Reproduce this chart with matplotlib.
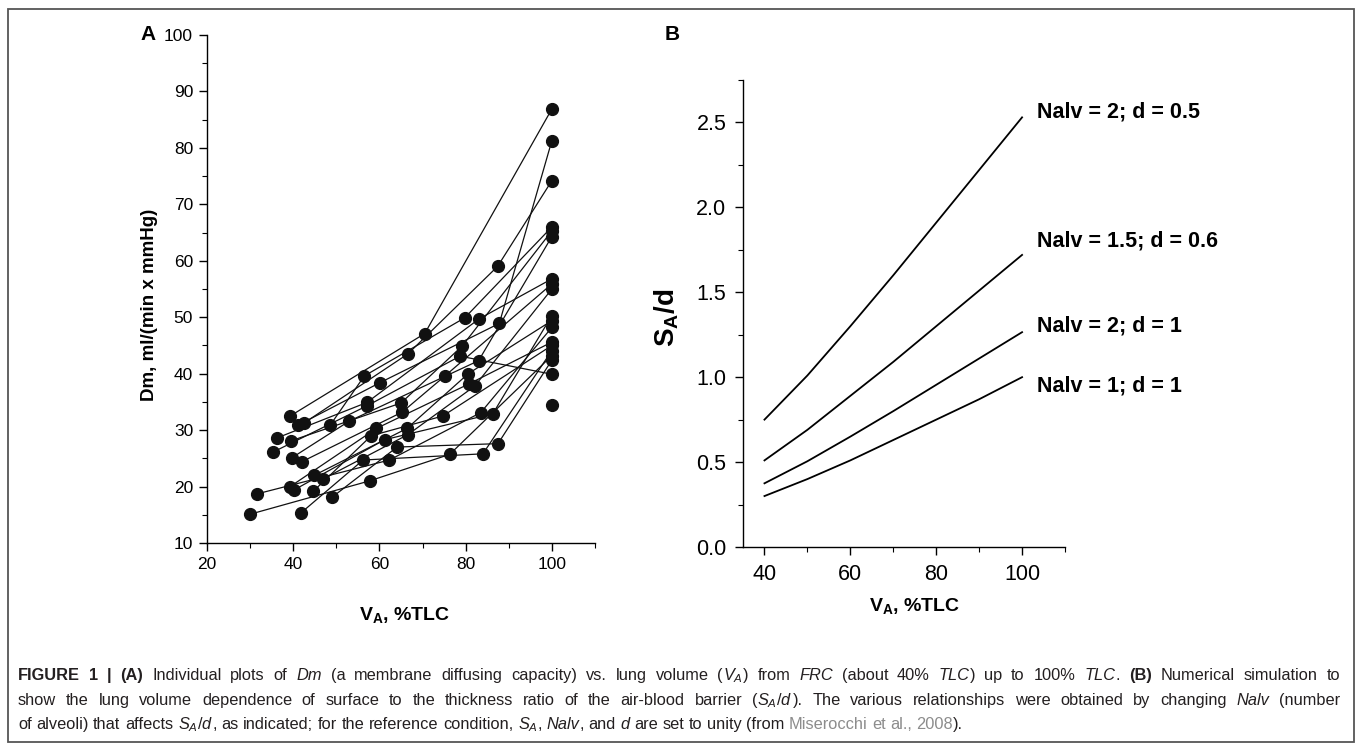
import numpy as np
import matplotlib.pyplot as plt
from matplotlib.ticker import MultipleLocator
from matplotlib.patches import Rectangle

plt.rcParams['font.family'] = ['Liberation Sans', 'DejaVu Sans']
plt.rcParams['mathtext.fontset'] = 'custom'
plt.rcParams['mathtext.rm'] = 'Liberation Sans'
plt.rcParams['mathtext.it'] = 'Liberation Sans:italic'
plt.rcParams['mathtext.bf'] = 'Liberation Sans:bold'

# ---- panel A: Dm vs lung volume, one list per subject ----
subj_va = [
    [30.0, 57.7, 76.3, 100], [41.9, 56.2, 84.0, 100], [49.0, 64.1, 87.5, 100],
    [31.6, 62.3, 83.5, 100], [44.7, 58.1, 74.7, 100], [40.2, 61.2, 86.3, 100],
    [39.3, 59.3, 80.8, 100], [46.8, 66.6, 82.1, 100], [44.9, 66.4, 80.6, 100],
    [42.0, 65.3, 75.2, 100], [39.7, 53.0, 83.0, 100], [35.3, 57.1, 78.7, 100],
    [39.5, 65.0, 79.2, 100], [36.2, 57.1, 83.1, 100], [41.2, 60.1, 87.8, 100],
    [48.6, 56.5, 79.8, 100], [42.4, 66.6, 87.4, 100], [39.3, 70.5, 100],
    [100],
]
subj_dm = [
    [15.1, 21.0, 25.7, 43.2], [15.4, 24.7, 25.8, 44.1], [18.1, 27.0, 27.6, 42.4],
    [18.7, 24.7, 33.1, 48.2], [19.2, 29.0, 32.5, 45.0], [19.4, 28.3, 32.9, 50.3],
    [20.0, 30.3, 38.2, 45.6], [21.3, 29.2, 37.8, 55.0], [22.0, 30.3, 40.0, 49.4],
    [24.4, 33.2, 39.6, 55.9], [25.1, 31.6, 42.3, 64.3], [26.1, 34.3, 43.1, 39.9],
    [28.1, 34.8, 44.9, 65.3], [28.6, 34.9, 49.7, 56.8], [30.9, 38.4, 48.9, 81.3],
    [30.9, 39.6, 49.9, 66.0], [31.2, 43.5, 59.0, 74.2], [32.5, 47.1, 86.9],
    [34.4],
]

# ---- panel B: simulated SA/d vs lung volume ----
va_sim = [40, 50, 60, 70, 80, 90, 100]
sad_n2_d05 = [0.75, 1.01, 1.30, 1.60, 1.91, 2.22, 2.53]
sad_n15_d06 = [0.51, 0.69, 0.89, 1.09, 1.30, 1.51, 1.72]
sad_n2_d1 = [0.375, 0.505, 0.65, 0.80, 0.955, 1.11, 1.265]
sad_n1_d1 = [0.30, 0.40, 0.51, 0.63, 0.75, 0.87, 1.00]
sim_labels = ['Nalv = 2; d = 0.5', 'Nalv = 1.5; d = 0.6', 'Nalv = 2; d = 1', 'Nalv = 1; d = 1']
label_y = [2.56, 1.80, 1.30, 0.95]

W, H = 1357, 746
fig = plt.figure(figsize=(W / 100, H / 100), dpi=100)

def px_axes(l, t, r, b):
    return fig.add_axes([l / W, 1 - b / H, (r - l) / W, (b - t) / H])

def style_axes(ax, fs, pad):
    ax.spines['top'].set_visible(False)
    ax.spines['right'].set_visible(False)
    for s in ('left', 'bottom'):
        ax.spines[s].set_linewidth(1.0)
    ax.tick_params(which='major', direction='out', length=6, width=1.0,
                   labelsize=fs, pad=pad)
    ax.tick_params(which='minor', direction='out', length=3.5, width=0.8)

# panel A
axA = px_axes(207, 35, 595, 543)
for xs, ys in zip(subj_va, subj_dm):
    axA.plot(xs, ys, '-o', color='#111111', lw=0.9, ms=8.5, clip_on=False)
axA.set_xlim(20, 110)
axA.set_ylim(10, 100)
axA.xaxis.set_major_locator(MultipleLocator(20))
axA.xaxis.set_minor_locator(MultipleLocator(10))
axA.yaxis.set_major_locator(MultipleLocator(10))
axA.yaxis.set_minor_locator(MultipleLocator(5))
style_axes(axA, 12.5, 4)
fig.text(149 / W, 1 - 305 / H, 'Dm, ml/(min x mmHg)', rotation=90, ha='center',
         va='center', fontsize=13.5, fontweight='bold')
fig.text(405 / W, 1 - 615 / H, r'$\mathbf{V_A}$, %TLC', ha='center', va='center',
         fontsize=14, fontweight='bold')
fig.text(140 / W, 1 - 35 / H, 'A', ha='left', va='center', fontsize=15, fontweight='bold')

# panel B
axB = px_axes(743, 80, 1065, 547)
for ys in (sad_n2_d05, sad_n15_d06, sad_n2_d1, sad_n1_d1):
    axB.plot(va_sim, ys, color='black', lw=1.3)
for lab, yl in zip(sim_labels, label_y):
    axB.text(103.5, yl, lab, ha='left', va='center', fontsize=15.5, fontweight='bold',
             clip_on=False)
axB.set_xlim(35, 110)
axB.set_ylim(0, 2.75)
axB.xaxis.set_major_locator(MultipleLocator(20))
axB.xaxis.set_minor_locator(MultipleLocator(10))
axB.yaxis.set_major_locator(MultipleLocator(0.5))
axB.yaxis.set_minor_locator(MultipleLocator(0.25))
axB.yaxis.set_major_formatter(plt.FormatStrFormatter('%.1f'))
style_axes(axB, 15.5, 6)
fig.text(667 / W, 1 - 318 / H, r'$\mathbf{S_A/d}$', rotation=90, ha='center', va='center',
         fontsize=20)
fig.text(915 / W, 1 - 606 / H, r'$\mathbf{V_A}$, %TLC', ha='center', va='center',
         fontsize=14, fontweight='bold')
fig.text(665 / W, 1 - 35 / H, 'B', ha='left', va='center', fontsize=15, fontweight='bold')

# outer frame
fig.patches.append(Rectangle((8 / W, 1 - 742 / H), (1354 - 8) / W, (742 - 9) / H,
                             transform=fig.transFigure, fill=False, ec='#555555', lw=1.3))

# ---- caption ----
cap_fs = 11.8
cap_col = '#231f20'
STY = {'n': {}, 'b': {'fontweight': 'bold'}, 'i': {'style': 'italic'},
       'g': {'color': '#8c8c8c'}}
renderer = fig.canvas.get_renderer()

def text_w(s, st):
    t = fig.text(0, 0, s, fontsize=cap_fs, **STY[st])
    w = t.get_window_extent(renderer).width
    t.remove()
    return w

space_w = text_w('a a', 'n') - text_w('aa', 'n')

def tokens(segs):
    out, pending = [], False
    for s, st in segs:
        parts = s.split(' ')
        for i, p in enumerate(parts):
            if i > 0:
                pending = True
            if p:
                out.append((p, st, pending))
                pending = False
    return out

def caption_line(segs, y_px, x0=18, x1=1340, justify=True):
    toks = tokens(segs)
    widths = [text_w(t, st) for t, st, _ in toks]
    nsp = sum(1 for _, _, sp in toks if sp)
    natural = sum(widths) + nsp * space_w
    gap = space_w + (x1 - x0 - natural) / nsp if justify else space_w
    x = x0
    for (t, st, sp), w in zip(toks, widths):
        if sp:
            x += gap
        kw = dict(STY[st])
        kw.setdefault('color', cap_col)
        fig.text(x / W, 1 - y_px / H, t, fontsize=cap_fs, ha='left', va='baseline', **kw)
        x += w

line1 = [('FIGURE 1 | (A)', 'b'), (' Individual plots of ', 'n'), ('Dm', 'i'),
         (' (a membrane diffusing capacity) vs. lung volume (', 'n'), ('$V_A$', 'i'),
         (') from ', 'n'), ('FRC', 'i'), (' (about 40% ', 'n'), ('TLC', 'i'),
         (') up to 100% ', 'n'), ('TLC', 'i'), ('. ', 'n'), ('(B)', 'b'),
         (' Numerical simulation to', 'n')]
line2 = [('show the lung volume dependence of surface to the thickness ratio of the '
          'air-blood barrier (', 'n'), ('$S_A/d$', 'i'),
         ('). The various relationships were obtained by changing ', 'n'), ('Nalv', 'i'),
         (' (number', 'n')]
line3 = [('of alveoli) that affects ', 'n'), ('$S_A/d$', 'i'),
         (', as indicated; for the reference condition, ', 'n'), ('$S_A$', 'i'),
         (', ', 'n'), ('Nalv', 'i'), (', and ', 'n'), ('d', 'i'),
         (' are set to unity (from ', 'n'), ('Miserocchi et al., 2008', 'g'), (').', 'n')]
caption_line(line1, 680)
caption_line(line2, 705)
caption_line(line3, 729, justify=False)

fig.savefig('out.png', dpi=100)
